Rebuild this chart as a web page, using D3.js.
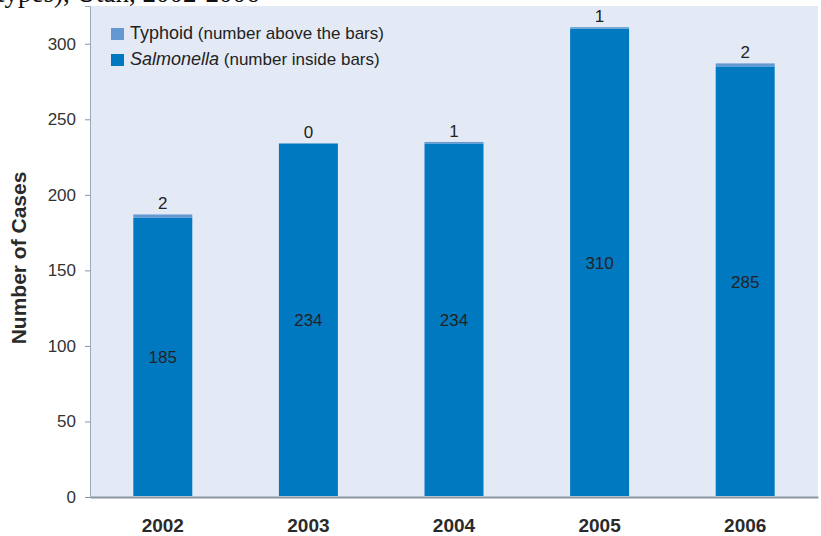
<!DOCTYPE html>
<html>
  <head>
    <meta charset="utf-8">
    <script src="https://cdn.jsdelivr.net/npm/d3@7"></script>
    <style>
      body { margin: 0; background: #ffffff; }
      text { font-family: "Liberation Sans", Arial, sans-serif; }
    </style>
  </head>
  <body>
    <svg width="821" height="536" id="mainsvg"></svg>
    <script>
        // data
        const years = ['2002', '2003', '2004', '2005', '2006'];
        const salmonella = [185, 234, 234, 310, 285];
        const typhoid = [2, 0, 1, 1, 2];
        const yTicks = [0, 50, 100, 150, 200, 250, 300];

        const svg = d3.select('#mainsvg');
        const margin = {top: 6, right: 3, bottom: 39, left: 90};
        const width = +svg.attr('width');
        const height = +svg.attr('height');
        const innerWidth = width - margin.left - margin.right;
        const innerHeight = height - margin.top - margin.bottom;

        // cut-off title line from the page above
        svg.append('text')
            .attr('x', -3).attr('y', 2)
            .style('font-family', '"Liberation Serif", "Times New Roman", serif')
            .style('font-size', '27px')
            .attr('fill', '#111')
            .text('types), Utah, 2002-2006');

        const g = svg.append('g')
            .attr('transform', `translate(${margin.left}, ${margin.top})`);

        g.append('rect')
            .attr('width', innerWidth).attr('height', innerHeight)
            .attr('fill', '#e4eaf5');

        const x = d3.scaleBand().domain(years).range([0, innerWidth]).paddingInner(0.595).paddingOuter(0.2975);
        const y = d3.scaleLinear().domain([0, 325]).range([innerHeight, 0]);

        // y axis
        const yAxis = g.append('g').call(d3.axisLeft(y).tickValues(yTicks).tickSize(5).tickPadding(9));
        yAxis.select('.domain').attr('stroke', '#9aa8b8');
        yAxis.selectAll('.tick line').attr('stroke', '#8a96a4');
        yAxis.selectAll('.tick text')
            .style('font-size', '17px').attr('fill', '#333');

        // x axis
        const xAxis = g.append('g').attr('transform', `translate(0, ${innerHeight})`)
            .call(d3.axisBottom(x).tickSize(0).tickPadding(22));
        xAxis.select('.domain').attr('stroke', '#8c96a2').attr('stroke-width', 2);
        xAxis.selectAll('.tick text')
            .style('font-size', '19px').style('font-weight', 'bold').attr('fill', '#2a2a2a');

        const rows = years.map((yr, i) => ({year: yr, s: salmonella[i], t: typhoid[i]}));

        // salmonella bars
        g.selectAll('.sal').data(rows).enter().append('rect')
            .attr('class', 'sal')
            .attr('x', d => x(d.year))
            .attr('width', x.bandwidth())
            .attr('y', d => y(d.s))
            .attr('height', d => y(0) - y(d.s) - 1)
            .attr('fill', '#0079c1');

        // typhoid on top
        g.selectAll('.typ').data(rows).enter().append('rect')
            .attr('class', 'typ')
            .attr('x', d => x(d.year))
            .attr('width', x.bandwidth())
            .attr('y', d => y(d.s + d.t))
            .attr('height', d => y(d.s) - y(d.s + d.t))
            .attr('fill', '#6399d0');

        // numbers inside bars
        g.selectAll('.lab-in').data(rows).enter().append('text')
            .attr('x', d => x(d.year) + x.bandwidth() / 2)
            .attr('y', d => (y(d.s) + y(0)) / 2 + 6)
            .attr('text-anchor', 'middle')
            .style('font-size', '17px').attr('fill', '#222')
            .text(d => d.s);

        // numbers above bars
        g.selectAll('.lab-top').data(rows).enter().append('text')
            .attr('x', d => x(d.year) + x.bandwidth() / 2)
            .attr('y', d => y(d.s + d.t) - 5)
            .attr('text-anchor', 'middle')
            .style('font-size', '17px').attr('fill', '#222')
            .text(d => d.t);

        // y label
        svg.append('text')
            .attr('transform', 'translate(26, 258) rotate(-90)')
            .attr('text-anchor', 'middle')
            .style('font-size', '21px').style('font-weight', 'bold').attr('fill', '#2a2a2a')
            .text('Number of Cases');

        // legend
        const legend = svg.append('g');
        const leg = [
            {name: 'Typhoid', note: ' (number above the bars)', color: '#6399d0', italic: false},
            {name: 'Salmonella', note: ' (number inside bars)', color: '#0079c1', italic: true}
        ];
        leg.forEach((d, i) => {
            const row = legend.append('g').attr('transform', `translate(111, ${28 + i * 26})`);
            row.append('rect').attr('width', 13).attr('height', 12).attr('fill', d.color);
            const t = row.append('text').attr('x', 19).attr('y', 11).attr('fill', '#222');
            t.append('tspan').style('font-size', '18px')
                .style('font-style', d.italic ? 'italic' : 'normal').text(d.name);
            t.append('tspan').style('font-size', '17px').text(d.note);
        });
    </script>
  </body>
</html>
